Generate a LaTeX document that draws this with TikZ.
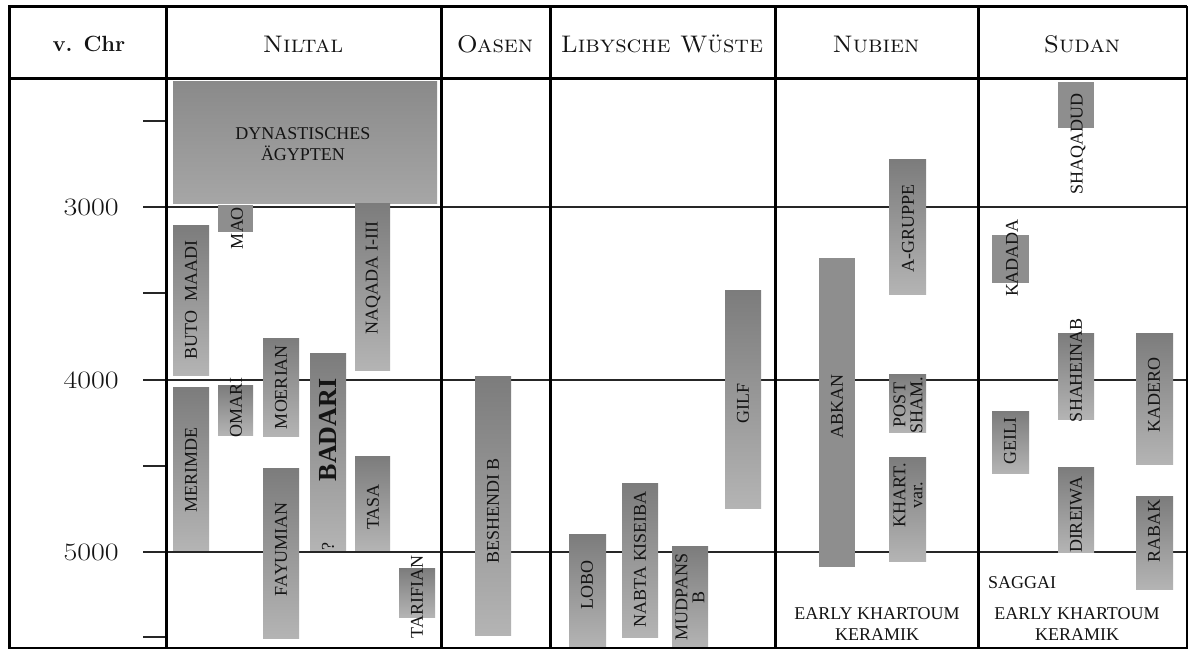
\documentclass[tikz,border=0pt]{standalone}
\usepackage{fontspec}
\newfontfamily\barfont{Liberation Serif}
\definecolor{bartop}{RGB}{124,124,124}
\definecolor{barbot}{RGB}{180,180,180}
\definecolor{barflat}{RGB}{142,142,142}
\definecolor{dyntop}{RGB}{138,138,138}
\definecolor{dynbot}{RGB}{166,166,166}
\definecolor{ink}{RGB}{20,20,20}
\tikzset{
  gbar/.style={top color=bartop, bottom color=barbot, draw=none},
  fbar/.style={fill=barflat, draw=none},
  dynbar/.style={top color=dyntop, bottom color=dynbot, draw=none},
  lab/.style={font=\barfont\fontsize{18}{17}\selectfont, text=ink, inner sep=0pt, rotate=90, align=center},
  hlab/.style={font=\barfont\fontsize{18}{21}\selectfont, text=ink, inner sep=0pt, align=center},
  head/.style={font=\fontsize{24}{24}\selectfont\scshape, text=ink, inner sep=0pt, xscale=1.04},
  year/.style={font=\fontsize{25}{25}\selectfont, text=ink, inner sep=0pt, anchor=east, xscale=1.2},
  major/.style={line width=2pt, draw=black!85},
  sep/.style={line width=3pt, draw=black},
}
\begin{document}
\begin{tikzpicture}[x=1pt,y=-1pt]
\useasboundingbox (0,0) rectangle (1189,650);
\fill[white] (0,0) rectangle (1189,650);
% grid lines
\foreach \yy in {207,380,552} \draw[major] (143,\yy) -- (1187,\yy);
\foreach \yy in {121,293,466,637} \draw[major] (143,\yy) -- (166,\yy);
% year labels
\node[year] (y3) at (119,207) {3000};
\node[year] (y4) at (119,380) {4000};
\node[year] (y5) at (119,552) {5000};
% ---- Niltal bars
\path[dynbar] (173,82) rectangle (437,203);
\path[fbar] (218,205) rectangle (253,232);
\path[gbar] (173,225) rectangle (209,375);
\path[gbar] (173,387) rectangle (209,550);
\path[gbar] (218,385) rectangle (253,435);
\path[gbar] (263,338) rectangle (299,436);
\path[gbar] (310,353) rectangle (346,550);
\path[gbar] (355,203) rectangle (390,370);
\path[gbar] (263,468) rectangle (299,638);
\path[gbar] (355,456) rectangle (390,550);
\path[gbar] (399,568) rectangle (435,617);
% ---- Oasen
\path[gbar] (475,376) rectangle (511,635);
% ---- Libysche Wueste
\path[gbar] (725,290) rectangle (761,508);
\path[gbar] (569,534) rectangle (606,648);
\path[gbar] (622,483) rectangle (658,637);
\path[gbar] (672,546) rectangle (708,648);
% ---- Nubien
\path[gbar] (889,160) rectangle (926,294);
\path[fbar] (819,258) rectangle (855,567);
\path[gbar] (889,374) rectangle (926,432);
\path[gbar] (889,457) rectangle (926,561);
% ---- Sudan
\path[fbar] (1058,82) rectangle (1094,128);
\path[fbar] (992,235) rectangle (1029,283);
\path[gbar] (1058,333) rectangle (1094,419);
\path[gbar] (1136,333) rectangle (1173,464);
\path[gbar] (992,411) rectangle (1029,473);
\path[gbar] (1058,467) rectangle (1094,552);
\path[gbar] (1136,496) rectangle (1173,589);
% ---- frame
\draw[sep] (9,7) -- (1187,7);
\draw[sep] (9,79) -- (1187,79);
\draw[line width=2pt] (9,648) -- (1187,648);
\draw[sep] (9,5.5) -- (9,649);
\draw[line width=1.5pt] (1187,6) -- (1187,649);
\foreach \xx in {166,441,550,775,978} \draw[sep] (\xx,6) -- (\xx,649);
% ---- headers
\node[font=\fontsize{22}{22}\selectfont\bfseries, text=ink, inner sep=0pt] (hv) at (89,44) {v. Chr};
\node[head] (hn) at (303,44) {Niltal};
\node[head] (ho) at (495,44) {Oasen};
\node[head] (hl) at (662,44) {Libysche Wüste};
\node[head] (hu) at (876,44) {Nubien};
\node[head] (hs) at (1082,44) {Sudan};
% ---- labels
\node[hlab] (dyn) at (303,144) {DYNASTISCHES\\ÄGYPTEN};
\node[lab] (mao) at (237,228) {MAO};
\node[lab] (buto) at (191,300) {BUTO\enspace MAADI};
\node[lab] (merimde) at (191,470) {MERIMDE};
\node[lab] (omari) at (236,407) {OMARI};
\node[lab] (moerian) at (281,387) {MOERIAN};
\node[lab, font=\barfont\fontsize{26}{26}\selectfont\bfseries] (badari) at (328,430) {BADARI};
\node[lab] (q) at (328,547) {?};
\node[lab] (naqada) at (373,278) {NAQADA I-III};
\node[lab] (fayum) at (281,549) {FAYUMIAN};
\node[lab] (tasa) at (373,507) {TASA};
\node[lab] (tarif) at (417,597) {TARIFIAN};
\node[lab] (besh) at (493,511) {BESHENDI B};
\node[lab] (gilf) at (743,403) {GILF};
\node[lab] (lobo) at (587,585) {LOBO};
\node[lab] (nabta) at (640,559) {NABTA KISEIBA};
\node[lab] (mud) at (690,597) {MUDPANS\\B};
\node[lab] (agr) at (908,228) {A-GRUPPE};
\node[lab] (abkan) at (837,406) {ABKAN};
\node[lab] (post) at (908,405) {POST\\SHAM.};
\node[lab] (khart) at (908,495) {KHART.\\var.};
\node[hlab] (ekn) at (877,624) {EARLY KHARTOUM\\KERAMIK};
\node[lab] (shaq) at (1078,144) {SHAQADUD};
\node[lab] (kadada) at (1012,258) {KADADA};
\node[lab] (shah) at (1076,370) {SHAHEINAB};
\node[lab] (kadero) at (1154,395) {KADERO};
\node[lab] (geili) at (1010,441) {GEILI};
\node[lab] (direiwa) at (1076,515) {DIREIWA};
\node[lab] (rabak) at (1154,531) {RABAK};
\node[hlab, anchor=west] (saggai) at (988,583) {SAGGAI};
\node[hlab] (eks) at (1077,624) {EARLY KHARTOUM\\KERAMIK};
\end{tikzpicture}
\end{document}
